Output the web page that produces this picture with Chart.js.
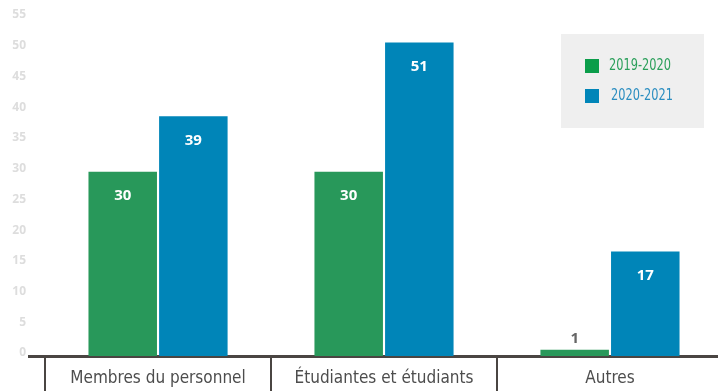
<!DOCTYPE html>
<html>
<head>
<meta charset="utf-8">
<script src="https://cdn.jsdelivr.net/npm/chart.js@4"></script>
<style>
  body { margin: 0; background: #fff; }
  .chart-box { position: relative; width: 718px; height: 391px; }
</style>
</head>
<body>
<div class="chart-box"><canvas id="myChart"></canvas></div>
<script>
// data
const categories = ['Membres du personnel', 'Étudiantes et étudiants', 'Autres'];
const seriesNames = ['2019-2020', '2020-2021'];
const values2019 = [30, 30, 1];
const values2020 = [39, 51, 17];
const yTicks = [0, 5, 10, 15, 20, 25, 30, 35, 40, 45, 50, 55];

const barColors = ['#28985a', '#0085b8'];
const legendColors = ['#0b9d4a', '#0085b8'];
const legendText = ['#2a9f5a', '#2a8dc0'];
const axisColor = '#4a4542';
const narrow = '"Liberation Sans Narrow", "DejaVu Sans Condensed", sans-serif';

// value labels on the bars
const valueLabels = {
  id: 'valueLabels',
  afterDatasetsDraw(chart) {
    const ctx = chart.ctx;
    ctx.save();
    ctx.font = 'bold 15px "Open Sans"';
    ctx.textAlign = 'center';
    ctx.textBaseline = 'middle';
    chart.data.datasets.forEach((ds, i) => {
      chart.getDatasetMeta(i).data.forEach((bar, j) => {
        const v = ds.data[j].y;
        if (bar.base - bar.y > 40) {
          ctx.fillStyle = '#fff';
          ctx.fillText(v, bar.x, bar.y + 24);
        } else {
          ctx.fillStyle = '#666';
          ctx.fillText(v, bar.x, bar.y - 11);
        }
      });
    });
    ctx.restore();
  }
};

// grey legend box, top right
const boxLegend = {
  id: 'boxLegend',
  afterDraw(chart) {
    const ctx = chart.ctx;
    const area = chart.chartArea;
    const w = 143, h = 94;
    const left = area.right - 14 - w;
    const top = 34;
    ctx.save();
    ctx.fillStyle = '#efefef';
    ctx.fillRect(left, top, w, h);
    ctx.font = '16px ' + narrow;
    ctx.textBaseline = 'middle';
    chart.data.datasets.forEach((ds, i) => {
      const y = top + 25 + i * 30;
      ctx.fillStyle = legendColors[i];
      ctx.fillRect(left + 24, y, 14, 14);
      ctx.fillStyle = legendText[i];
      ctx.fillText(ds.label, left + 48 + i * 2, y + 7, 62);
    });
    ctx.restore();
  }
};

const ctx = document.getElementById('myChart');
const myChart = new Chart(ctx, {
  type: 'bar',
  data: {
    datasets: [values2019, values2020].map((vals, i) => ({
      label: seriesNames[i],
      data: vals.map((v, j) => ({ x: j, y: v })),
      backgroundColor: barColors[i],
      categoryPercentage: 0.625,
      barPercentage: 0.97
    }))
  },
  options: {
    responsive: true,
    maintainAspectRatio: false,
    animation: false,
    layout: { padding: { top: 18 } },
    scales: {
      x: {
        type: 'linear',
        offset: false,
        min: -0.571,
        max: 2.478,
        z: 1,
        afterBuildTicks: s => { s.ticks = categories.map((c, i) => ({ value: i })); },
        afterFit: s => { s.height = 35; },
        ticks: {
          callback: v => categories[v],
          padding: -23,
          color: '#4d4d4d',
          autoSkip: false,
          maxRotation: 0,
          font: { family: narrow, size: 17 }
        },
        grid: { offset: true, drawOnChartArea: false, tickLength: 35, color: axisColor, lineWidth: 2 },
        border: { color: axisColor, width: 3 }
      },
      y: {
        min: 0,
        max: 55,
        afterBuildTicks: s => { s.ticks = yTicks.map(v => ({ value: v })); },
        afterFit: s => { s.width = 29; },
        grid: { display: false, drawTicks: false },
        border: { display: false },
        ticks: {
          color: '#dddddd',
          padding: 3,
          labelOffset: -3,
          font: { family: '"Open Sans"', size: 12, weight: 'bold' }
        }
      }
    },
    plugins: {
      legend: { display: false },
      tooltip: { enabled: false }
    }
  },
  plugins: [valueLabels, boxLegend]
});
</script>
</body>
</html>
